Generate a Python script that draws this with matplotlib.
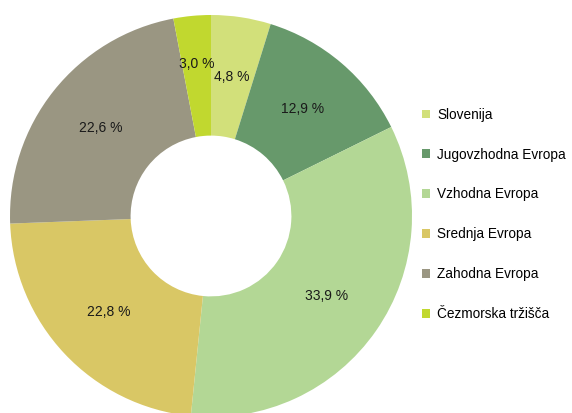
import numpy as np
import matplotlib.pyplot as plt
from matplotlib.patches import Patch

plt.rcParams['font.family'] = ['Liberation Sans', 'DejaVu Sans']

# delezi po trgih (v %)
trgi = ['Slovenija', 'Jugovzhodna Evropa', 'Vzhodna Evropa', 'Srednja Evropa',
        'Zahodna Evropa', 'Čezmorska tržišča']
delezi = [4.8, 12.9, 33.9, 22.8, 22.6, 3.0]
barve = ['#d2e07a', '#67996b', '#b3d795', '#d9c765', '#9a9682', '#c1d82f']

fig = plt.figure(figsize=(5.72, 4.13), dpi=100)
ax = fig.add_axes([0, 0, 1, 1])

R = 201
wedges, _ = ax.pie(delezi, colors=barve, startangle=90, counterclock=False,
                   radius=R, center=(211, 197),
                   wedgeprops=dict(width=R * 0.6, linewidth=0))

# oznake z vejico
for w, v in zip(wedges, delezi):
    kot = np.deg2rad((w.theta1 + w.theta2) / 2)
    r = 0.76 * R if v < 4 else 0.70 * R
    x = 211 + r * np.cos(kot)
    y = 197 + r * np.sin(kot)
    ax.text(x, y, f"{v:.1f}".replace('.', ',') + " %", ha='center', va='center',
            fontsize=10, color='#1a1a1a')

ax.set_xlim(0, 572)
ax.set_ylim(0, 413)
ax.set_aspect('equal')
ax.axis('off')

handles = [Patch(facecolor=c, edgecolor='none') for c in barve]
ax.legend(handles, trgi, loc='center left', bbox_to_anchor=(0.738, 0.481),
          frameon=False, fontsize=9.8, labelspacing=1.9, handlelength=0.6,
          handleheight=0.6, handletextpad=0.5, borderpad=0, borderaxespad=0)

fig.savefig('out.png', dpi=100)
